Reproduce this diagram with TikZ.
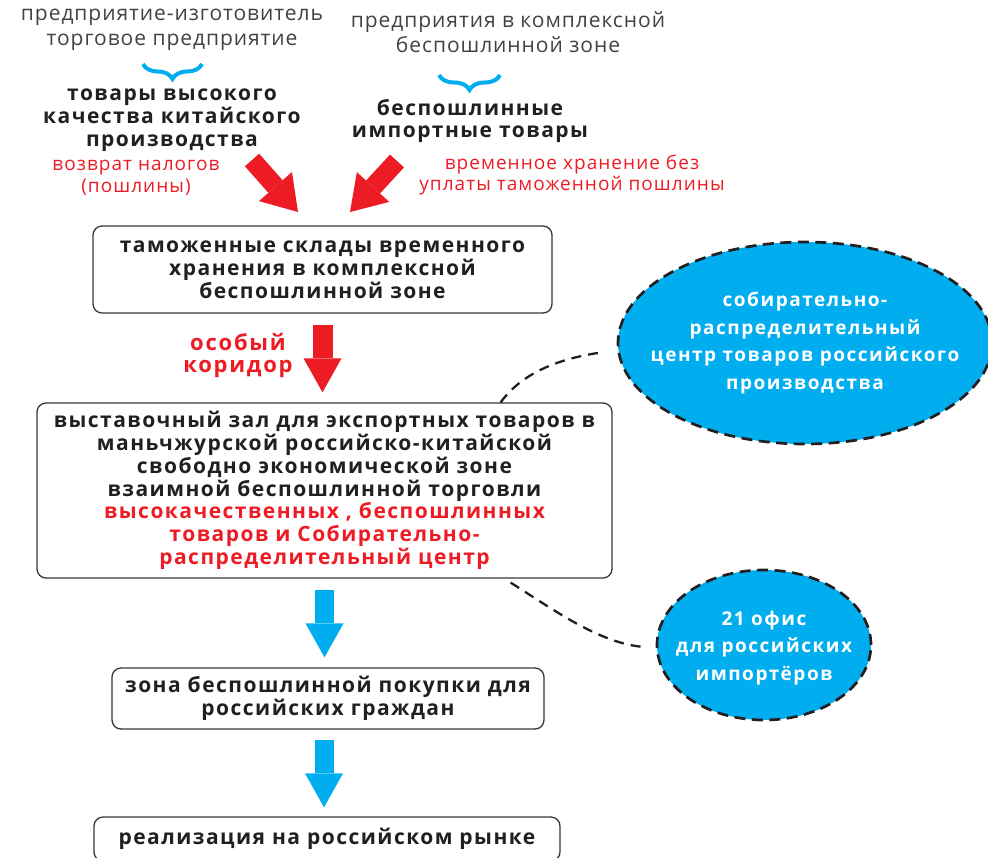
\documentclass[tikz,border=0pt]{standalone}
\usepackage{fontspec}
\setmainfont{Open Sans}
\newfontfamily\trk{Open Sans}[LetterSpace=7]
\newfontfamily\trkb{Open Sans}[LetterSpace=8]
\newfontfamily\trkp{Open Sans}[LetterSpace=4.5]
\newfontfamily\trkr{Open Sans}[LetterSpace=5.5]
\usetikzlibrary{arrows.meta,decorations.pathreplacing,shapes.geometric,calc}
\definecolor{ared}{HTML}{ED1C24}
\definecolor{acyan}{HTML}{00AEEF}
\definecolor{ink}{HTML}{231F20}
\begin{document}
\begin{tikzpicture}[x=1pt,y=-1pt,
  bold/.style={font=\trk\bfseries\fontsize{21}{22.8}\selectfont, text=ink, align=center, inner sep=0pt},
  plain/.style={font=\trkp\fontsize{21}{24.5}\selectfont, text=ink!85, align=center, inner sep=0pt},
  redtxt/.style={font=\trkr\fontsize{19}{21.5}\selectfont, text=ared, align=center, inner sep=0pt},
  box/.style={draw=ink!90, line width=1.3pt, rounded corners=9pt, inner sep=0pt},
  bubble/.style={ellipse, fill=acyan, draw=ink, line width=2.7pt, dash pattern=on 11pt off 6.5pt, inner sep=0pt},
  bubtxt/.style={text=white, font=\trkb\bfseries\fontsize{19}{27.5}\selectfont, align=center, inner sep=0pt},
  bluebrace/.style={draw=acyan, line width=4pt, decorate, decoration={brace, amplitude=15pt}},
  redarrow/.style={draw=ared, line width=19pt, -{Triangle[length=34pt, width=44pt, line width=0pt]}},
  bluearrow/.style={draw=acyan, line width=19pt, -{Triangle[length=34pt, width=38pt, line width=0pt]}},
  dashconn/.style={draw=ink, line width=2.3pt, dash pattern=on 10pt off 7pt},
]
\useasboundingbox (0,0) rectangle (988,857);

% top texts
\node[plain] (topL) at (172,30) {предприятие-изготовитель\\торговое предприятие};
\node[plain] (topR) at (508,32) {предприятия в комплексной\\беспошлинной зоне};
\draw[bluebrace] (202,64) -- (143,64);
\draw[bluebrace] (500,75) -- (439,75);
\node[bold] (goodsL) at (172,120) {товары высокого\\качества китайского\\производства};
\node[bold] (goodsR) at (470,121) {беспошлинные\\импортные товары};
\node[redtxt] (refund) at (136,178) {возврат налогов\\(пошлины)};
\node[redtxt] (store) at (572,175) {временное хранение без\\уплаты таможенной пошлины};

% boxes
\node[box, bold, minimum width=459pt, minimum height=87pt] (box1) at (322.5,269.5)
  {таможенные склады временного\\хранения в комплексной\\беспошлинной зоне};
\node[box, bold, minimum width=575pt, minimum height=175pt] (box2) at (324.5,490.5)
  {выставочный зал для экспортных товаров в\\маньчжурской российско-китайской\\свободно экономической зоне\\взаимной беспошлинной торговли\\\color{ared}высокачественных , беспошлинных\\\color{ared}товаров и Собирательно-\\\color{ared}распределительный центр};
\node[box, bold, minimum width=432pt, minimum height=61pt] (box3) at (328,698.5)
  {зона беспошлинной покупки для\\российских граждан};
\node[box, bold, minimum width=466pt, minimum height=44pt] (box4) at (327,839)
  {реализация на российском рынке};
\node[bold, text=ared, font=\trkb\bfseries\fontsize{22}{22}\selectfont] (corr) at (238,356) {особый\\коридор};

% bubbles
\node[bubble, minimum width=374pt, minimum height=202pt] (ell1) at (805,343) {};
\node[bubtxt] (ell1t) at (ell1.center)
  {собирательно-\\распределительный\\центр товаров российского\\производства};
\node[bubble, minimum width=214pt, minimum height=150pt] (ell2) at (764,645) {};
\node[bubtxt] (ell2t) at ([yshift=-3pt]ell2.center)
  {21 офис\\для российских\\импортёров};

% red diagonal arrows
\coordinate (la1) at (252,160);
\coordinate (la2) at (298,212);
\coordinate (ra1) at (397,161);
\coordinate (ra2) at (350,212);
\draw[redarrow] (la1) -- (la2);
\draw[redarrow] (ra1) -- (ra2);

% vertical arrows
\draw[redarrow, line width=20pt, -{Triangle[length=34pt, width=38pt, line width=0pt]}, shorten <=11pt, shorten >=10pt] (box1.south) -- (box1.south |- box2.north);
\draw[bluearrow, shorten <=11pt, shorten >=10pt] (box2.south) -- (box2.south |- box3.north);
\draw[bluearrow, shorten <=10pt, shorten >=9pt] ([xshift=-4pt]box3.south) -- ([xshift=-4pt]box3.south |- box4.north);

% dashed connectors
\draw[dashconn] ([xshift=-112pt]box2.north east) .. controls +(22,-30) and +(-45,6) .. ([shift={(-12,9)}]ell1.west);
\draw[dashconn] ([shift={(-102,4)}]box2.south east) .. controls +(40,25) and +(-45,-3) .. ([shift={(-11,2)}]ell2.west);
\end{tikzpicture}
\end{document}
